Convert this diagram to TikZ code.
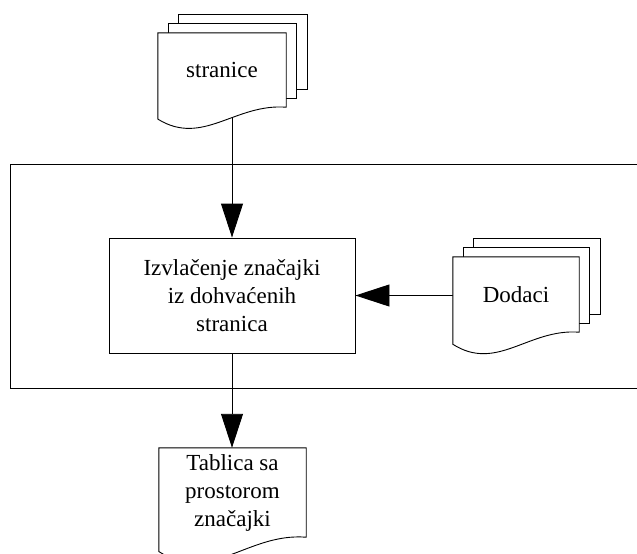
\documentclass[tikz,border=0pt]{standalone}
\usepackage{fontspec}
\setmainfont{Liberation Serif}
\usetikzlibrary{arrows.meta,calc}
\pgfdeclarelayer{bg}
\pgfdeclarelayer{sheets}
\pgfsetlayers{bg,sheets,main}

% outline of a document sheet with a wavy lower edge, wrapped round a node
\newcommand{\docoutline}[1]{%
  \path[docline] let \p1=(#1.north west), \p2=(#1.south east),
        \n1={\x2-\x1}, \n2={0.16*(\y1-\y2)} in
    (\x1,\y1) -- (\x2,\y1) -- (\x2,\y2)
    .. controls (\x1+0.6*\n1,\y2+0.33*\n2) and (\x1+0.35*\n1,\y2-3.33*\n2) ..
    (\x1,\y2-\n2) -- cycle;}
% two further sheets stacked behind a document
\newcommand{\docstack}[1]{%
  \draw[docline] ($(#1.north west)+(21,-18)$) rectangle ($(#1.south east)+(21,-18)$);
  \draw[docline] ($(#1.north west)+(10.5,-9)$) rectangle ($(#1.south east)+(10.5,-9)$);}

\tikzset{
  docline/.style={draw=black, fill=white, line width=0.9pt},
  textnode/.style={rectangle, inner sep=0pt, align=center,
    font=\fontsize{23}{28}\selectfont},
  procbox/.style={textnode, draw=black, line width=0.9pt},
  flow/.style={draw=black, line width=0.9pt,
    -{Triangle[length=34pt, width=22pt]}},
  plain/.style={draw=black, line width=0.9pt}
}

\begin{document}
\begin{tikzpicture}[x=1pt, y=-1pt]
\useasboundingbox (0,0) rectangle (637,554);

\node[textnode, minimum width=128pt, minimum height=74pt] (str) at (222,70) {stranice};
\node[procbox, minimum width=246pt, minimum height=115pt] (box) at (232,295.5)
  {Izvlačenje značajki\\iz dohvaćenih\\stranica};
\node[textnode, minimum width=126pt, minimum height=75pt] (dod) at (516,294.5) {Dodaci};
\node[textnode, minimum width=147pt, minimum height=89pt] (tab) at (232.5,492.5)
  {Tablica sa\\prostorom\\značajki};

\coordinate (frameTL) at (10,164.5);
\coordinate (frameBL) at (10,388);
\coordinate (frameTR) at (640,164.5);
\coordinate (frameBR) at (640,388);

\begin{pgfonlayer}{bg}
  \draw[plain] (frameTR) -- (frameTL) -- (frameBL) -- (frameBR);
  \draw[flow] (str.south -| box.north) -- (box.north);
  \draw[flow] (dod.west |- box.east) -- (box.east);
  \draw[flow] (box.south) -- (box.south |- tab.north);
\end{pgfonlayer}

\begin{pgfonlayer}{sheets}
  \docstack{str}
  \docoutline{str}
  \docstack{dod}
  \docoutline{dod}
  \docoutline{tab}
\end{pgfonlayer}
\end{tikzpicture}
\end{document}
